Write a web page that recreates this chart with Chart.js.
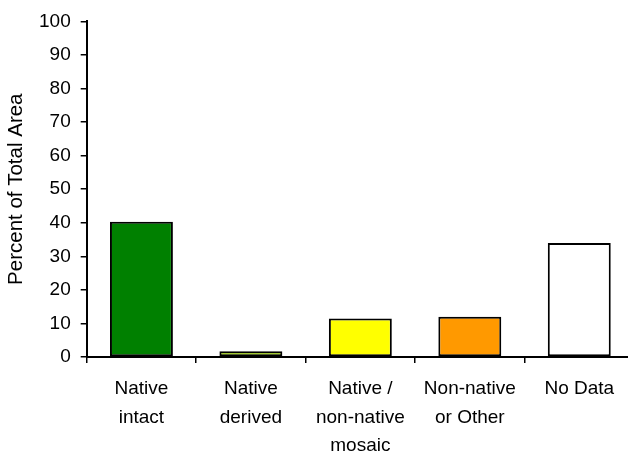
<!DOCTYPE html>
<html>
<head>
<meta charset="utf-8">
<script src="https://cdn.jsdelivr.net/npm/chart.js@4/dist/chart.umd.min.js"></script>
<style>
  html, body { margin: 0; padding: 0; background: #fff; overflow: hidden; }
  #wrap { width: 628px; height: 457px; overflow: hidden; }
</style>
</head>
<body>
<div id="wrap"><canvas id="landChart" width="636" height="457"></canvas></div>
<script>
const categories = [
  ['Native', 'intact'],
  ['Native', 'derived'],
  ['Native /', 'non-native', 'mosaic'],
  ['Non-native', 'or Other'],
  'No Data'
];
const percentValues = [40.3, 1.7, 11.5, 12.0, 34.0];
const yTicks = [0, 10, 20, 30, 40, 50, 60, 70, 80, 90, 100];
const barColors = ['#008000', '#99cc00', '#ffff00', '#ff9900', '#ffffff'];

const font = { family: 'Liberation Sans, Arial, sans-serif', size: 19 };

const ctx = document.getElementById('landChart').getContext('2d');
new Chart(ctx, {
  type: 'bar',
  data: {
    labels: categories,
    datasets: [{
      label: 'Percent of Total Area',
      data: percentValues,
      backgroundColor: barColors,
      borderColor: '#000',
      borderWidth: 2,
      borderSkipped: false,
      categoryPercentage: 1,
      barPercentage: 0.575
    }]
  },
  options: {
    responsive: false,
    animation: false,
    layout: { padding: { top: 9, left: 0, right: 2, bottom: 0 } },
    plugins: {
      legend: { display: false },
      tooltip: { enabled: false }
    },
    scales: {
      x: {
        grid: { drawOnChartArea: false, drawTicks: true, tickLength: 6, color: '#000', lineWidth: 1.5 },
        border: { color: '#000', width: 2 },
        ticks: {
          color: '#000',
          font: { ...font, lineHeight: 1.5 },
          padding: 12,
          maxRotation: 0,
          autoSkip: false
        },
        afterFit: scale => { scale.height = 100; }
      },
      y: {
        min: 0,
        max: 100,
        grid: { drawOnChartArea: false, drawTicks: true, tickLength: 6, color: '#000', lineWidth: 1.5 },
        border: { color: '#000', width: 2 },
        ticks: {
          color: '#000',
          font: { ...font, lineHeight: 1.2 },
          padding: 10,
          stepSize: 10,
          callback: v => yTicks.includes(v) ? v : ''
        },
        title: {
          display: true,
          text: 'Percent of Total Area',
          color: '#000',
          font: { ...font, size: 20.5, lineHeight: 1.2 },
          padding: { top: 4, bottom: 0 }
        },
        afterFit: scale => { scale.width = 86.7; }
      }
    }
  }
});
</script>
</body>
</html>
